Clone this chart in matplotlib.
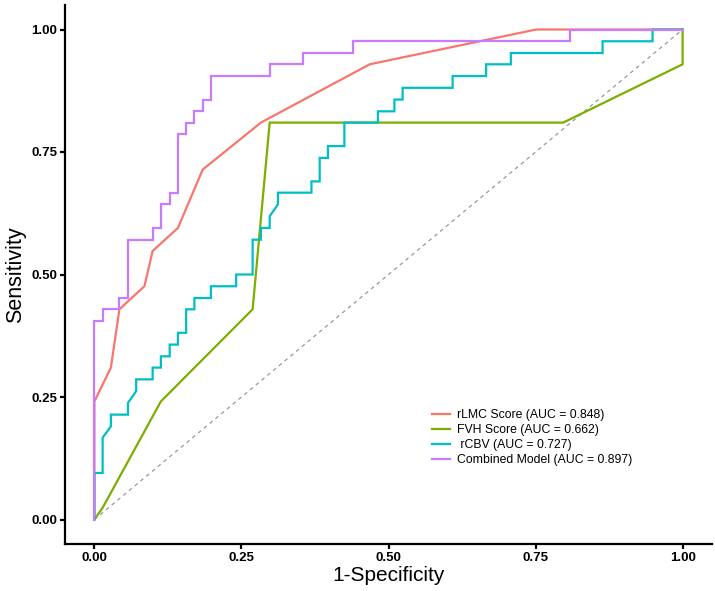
import matplotlib
matplotlib.use("Agg")
import matplotlib.pyplot as plt

plt.rcParams['font.family'] = ['Liberation Sans', 'DejaVu Sans']

# ROC coordinates (1-specificity, sensitivity)
rlmc_fpr = [0, 0, 0.028, 0.0425, 0.085, 0.099, 0.142, 0.184, 0.283, 0.468, 0.751, 1]
rlmc_tpr = [0, 0.241, 0.310, 0.429, 0.476, 0.548, 0.595, 0.714, 0.810, 0.929, 1, 1]

fvh_fpr = [0, 0.014, 0.113, 0.269, 0.298, 0.797, 1, 1]
fvh_tpr = [0, 0.024, 0.241, 0.429, 0.810, 0.810, 0.929, 1]

rcbv_fpr = [0, 0, 0.014, 0.014, 0.028, 0.028, 0.057, 0.057, 0.071, 0.071, 0.099, 0.099,
            0.113, 0.113, 0.128, 0.128, 0.142, 0.142, 0.156, 0.156, 0.170, 0.170,
            0.198, 0.198, 0.241, 0.241, 0.269, 0.269, 0.283, 0.283, 0.298, 0.298,
            0.312, 0.312, 0.369, 0.369, 0.383, 0.383, 0.397, 0.397, 0.425, 0.425,
            0.482, 0.482, 0.510, 0.510, 0.524, 0.524, 0.609, 0.609, 0.666, 0.666,
            0.708, 0.708, 0.864, 0.864, 0.949, 0.949, 1]
rcbv_tpr = [0, 0.095, 0.095, 0.167, 0.190, 0.214, 0.214, 0.238, 0.262, 0.286, 0.286, 0.310,
            0.310, 0.333, 0.333, 0.357, 0.357, 0.381, 0.381, 0.429, 0.429, 0.452,
            0.452, 0.476, 0.476, 0.500, 0.500, 0.571, 0.571, 0.595, 0.595, 0.619,
            0.643, 0.667, 0.667, 0.690, 0.690, 0.738, 0.738, 0.762, 0.762, 0.810,
            0.810, 0.833, 0.833, 0.857, 0.857, 0.881, 0.881, 0.905, 0.905, 0.929,
            0.929, 0.952, 0.952, 0.976, 0.976, 1, 1]

comb_fpr = [0, 0, 0.014, 0.014, 0.0425, 0.0425, 0.057, 0.057, 0.099, 0.099, 0.113, 0.113,
            0.128, 0.128, 0.142, 0.142, 0.156, 0.156, 0.170, 0.170, 0.184, 0.184,
            0.198, 0.198, 0.298, 0.298, 0.354, 0.354, 0.439, 0.439, 0.808, 0.808, 1]
comb_tpr = [0, 0.405, 0.405, 0.429, 0.429, 0.452, 0.452, 0.571, 0.571, 0.595, 0.595, 0.643,
            0.643, 0.667, 0.667, 0.786, 0.786, 0.810, 0.810, 0.833, 0.833, 0.857,
            0.857, 0.905, 0.905, 0.929, 0.929, 0.952, 0.952, 0.976, 0.976, 1, 1]

labels = ['rLMC Score (AUC = 0.848)', 'FVH Score (AUC = 0.662)',
          ' rCBV (AUC = 0.727)', 'Combined Model (AUC = 0.897)']
colors = ['#F8766D', '#7CAE00', '#00BFC4', '#C77CFF']
ticks = [0, 0.25, 0.5, 0.75, 1]
tick_labels = ['0.00', '0.25', '0.50', '0.75', '1.00']

fig = plt.figure(figsize=(7.15, 5.91), dpi=100)
ax = fig.add_axes([65/715, 1-544/591, 647/715, 539/591])

ax.plot([0, 1], [0, 1], ls=(0, (3, 3)), color='#999999', lw=0.9, zorder=1)
curves = [(rlmc_fpr, rlmc_tpr), (fvh_fpr, fvh_tpr), (rcbv_fpr, rcbv_tpr), (comb_fpr, comb_tpr)]
for (fx, ty), c, lab in zip(curves, colors, labels):
    ax.plot(fx, ty, color=c, lw=1.6, label=lab, zorder=2, solid_joinstyle='miter')

ax.set_xlim(-0.05, 1.05)
ax.set_ylim(-0.05, 1.05)
ax.set_xticks(ticks)
ax.set_xticklabels(tick_labels)
ax.set_yticks(ticks)
ax.set_yticklabels(tick_labels)
for s in ['top', 'right']:
    ax.spines[s].set_visible(False)
for s in ['left', 'bottom']:
    ax.spines[s].set_linewidth(1.6)
ax.tick_params(width=1.6, length=3.5, pad=2, labelsize=9.5, colors='black')
for t in ax.get_xticklabels() + ax.get_yticklabels():
    t.set_fontweight('bold')

ax.set_xlabel('1-Specificity', fontsize=15, labelpad=2)
ax.set_ylabel('Sensitivity', fontsize=15.5, labelpad=4)

leg = ax.legend(loc='upper left', bbox_to_anchor=(432/715, 1-409/591),
                bbox_transform=fig.transFigure, frameon=False, fontsize=8.8,
                handlelength=1.5, handletextpad=0.55, labelspacing=0.25,
                borderpad=0, borderaxespad=0)

fig.savefig('out.png', dpi=100)
